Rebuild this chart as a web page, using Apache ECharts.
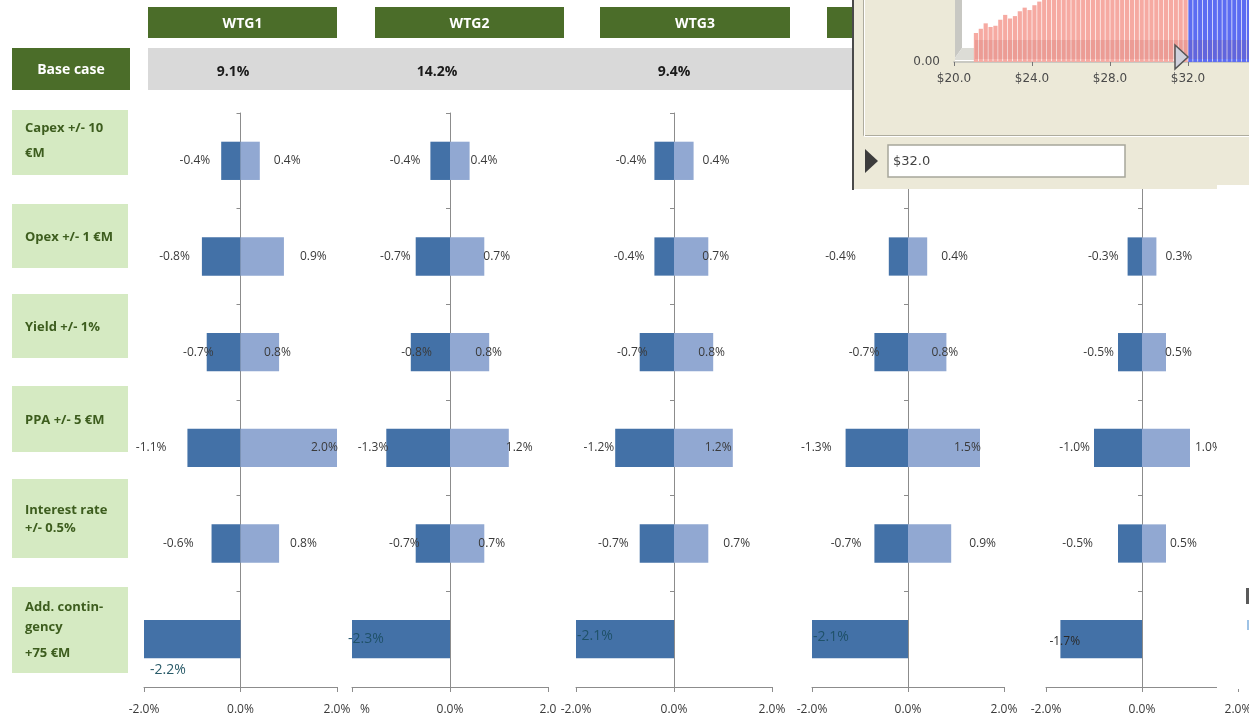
<!DOCTYPE html>
<html>
<head>
<meta charset="utf-8">
<script src="https://cdn.jsdelivr.net/npm/echarts@6/dist/echarts.min.js"></script>
<style>
  html, body { margin: 0; padding: 0; background: #ffffff; }
  #chart { width: 1249px; height: 720px; }
</style>
</head>
<body>
<div id="chart"></div>
<script>
// ---- data -------------------------------------------------------------
const turbines = ['WTG1', 'WTG2', 'WTG3'];
const baseCase = ['9.1%', '14.2%', '9.4%'];
const driverKeys = ['Capex', 'Opex', 'Yield', 'PPA', 'Interest', 'Contingency'];
const driverLines = [
  ['Capex +/- 10', '€M'],
  ['Opex +/- 1 €M'],
  ['Yield +/- 1%'],
  ['PPA +/- 5 €M'],
  ['Interest rate', '+/- 0.5%'],
  ['Add. contin-', 'gency', '+75 €M']
];

// IRR change (percentage points) per driver, downside / upside
const wtg1Low  = [-0.4, -0.8, -0.7, -1.1, -0.6, -2.2];
const wtg1High = [ 0.4,  0.9,  0.8,  2.0,  0.8, null];
const wtg2Low  = [-0.4, -0.7, -0.8, -1.3, -0.7, -2.3];
const wtg2High = [ 0.4,  0.7,  0.8,  1.2,  0.7, null];
const wtg3Low  = [-0.4, -0.4, -0.7, -1.2, -0.7, -2.1];
const wtg3High = [ 0.4,  0.7,  0.8,  1.2,  0.7, null];
const wtg4Low  = [null, -0.4, -0.7, -1.3, -0.7, -2.1];
const wtg4High = [null,  0.4,  0.8,  1.5,  0.9, null];
const wtg5Low  = [null, -0.3, -0.5, -1.0, -0.5, -1.7];
const wtg5High = [null,  0.3,  0.5,  1.0,  0.5, null];

// price distribution (bin centre in $, probability)
const priceBins = [21.125, 21.375, 21.625, 21.875, 22.125, 22.375, 22.625, 22.875,
  23.125, 23.375, 23.625, 23.875, 24.125, 24.375, 24.625, 24.875, 25.125, 25.375,
  25.625, 25.875, 26.125, 26.375, 26.625, 26.875, 27.125, 27.375, 27.625, 27.875,
  28.125, 28.375, 28.625, 28.875, 29.125, 29.375, 29.625, 29.875, 30.125, 30.375,
  30.625, 30.875, 31.125, 31.375, 31.625, 31.875, 32.125, 32.375, 32.625, 32.875,
  33.125, 33.375, 33.625, 33.875, 34.125, 34.375, 34.625, 34.875, 35.125];
const priceProb = [0.0048, 0.0055, 0.0064, 0.0058, 0.0060, 0.0070, 0.0078, 0.0072,
  0.0076, 0.0084, 0.0090, 0.0086, 0.0094, 0.0100, 0.0112, 0.0128, 0.0205, 0.0222,
  0.0240, 0.0256, 0.0270, 0.0284, 0.0296, 0.0305, 0.0312, 0.0318, 0.0322, 0.0324,
  0.0323, 0.0320, 0.0314, 0.0306, 0.0297, 0.0286, 0.0274, 0.0262, 0.0249, 0.0236,
  0.0222, 0.0209, 0.0196, 0.0184, 0.0172, 0.0160, 0.0150, 0.0140, 0.0131, 0.0123,
  0.0118, 0.0114, 0.0111, 0.0109, 0.0108, 0.0107, 0.0106, 0.0106, 0.0105];
const priceThreshold = 32.0;
const priceInput = '$32.0';

// ---- layout & style ---------------------------------------------------
const FONT = '"Open Sans", "Liberation Sans", sans-serif';
const darkGreen = '#4b6d29';
const lightGreen = '#d5eac2';
const labelGreen = '#3d5d1e';
const lowColor = '#4371a7';
const highColor = '#91a8d2';
const axisGrey = '#8c8c8c';
const textGrey = '#3a3a3a';

const panelBox = [
  { left: 144, width: 193 },
  { left: 352, width: 196 },
  { left: 576, width: 196 },
  { left: 812, width: 192 },
  { left: 1046, width: 192 }
];
const headerBox = [[148, 337], [375, 564], [600, 790], [827, 1016]];
const baseValueX = [233, 437, 674];
const driverBoxY = [[110, 175], [204, 268], [294, 358], [386, 452], [479, 558], [587, 673]];
const driverTextY = [[128, 153], [237], [327], [420], [510, 528], [607, 627, 653]];

// how far each data label sits from its bar end (px, negative = over the bar)
const lowGap = [
  [11, 12, -7, 21, 18, 0],
  [10, 5, -21, -2, -4, 0],
  [8, 10, -8, 1, 11, 0],
  [0, 33, -5, 14, 13, 0],
  [0, 9, 4, 4, 25, 0]
];
const highGap = [
  [14, 16, -15, -26, 11, 0],
  [1, -1, -14, -3, -6, 0],
  [9, -6, -15, -28, 15, 0],
  [0, 14, -15, -26, 18, 0],
  [0, 9, -1, 5, 4, 0]
];
// labels of the long contingency bars
const contingencyLabel = [
  { offset: [1, 31], color: '#2a5b69', fontSize: 14 },
  { offset: [-9, 0], color: '#1f5169', fontSize: 14 },
  { offset: [-4, -3], color: '#1f5169', fontSize: 14 },
  { offset: [-4, -2], color: '#1f5169', fontSize: 14 },
  { offset: [-16, 2], color: '#2a2a2a', fontSize: 12 }
];

const lows = [wtg1Low, wtg2Low, wtg3Low, wtg4Low, wtg5Low];
const highs = [wtg1High, wtg2High, wtg3High, wtg4High, wtg5High];

const pct = v => v.toFixed(1) + '%';

const grid = [], xAxis = [], yAxis = [], series = [];

panelBox.forEach((box, i) => {
  grid.push({ left: box.left, width: box.width, top: 113, height: 574, outerBoundsMode: 'none', containLabel: false });

  let fmt = v => pct(v);
  const rich = {};
  if (i === 1) {
    // second panel is cut on both sides
    fmt = v => (v === -2 ? '{cut|%}' : v === 2 ? '2.0' : pct(v));
    rich.cut = { padding: [0, 0, 0, 8], fontSize: 12, fontFamily: FONT, color: textGrey };
  }
  xAxis.push({
    gridIndex: i, type: 'value', min: -2, max: 2, interval: 2,
    axisLine: { show: true, onZero: false, lineStyle: { color: axisGrey, width: 1 } },
    axisTick: { show: true, length: 5, lineStyle: { color: axisGrey } },
    splitLine: { show: false },
    axisLabel: {
      formatter: fmt, rich: rich, margin: 17, fontSize: 12, fontFamily: FONT, color: textGrey,
      alignMinLabel: i === 1 ? 'left' : 'center'
    }
  });
  yAxis.push({
    gridIndex: i, type: 'category', data: driverKeys, inverse: true,
    axisLine: { show: true, onZero: true, lineStyle: { color: axisGrey, width: 1 } },
    axisTick: { show: true, length: 4, lineStyle: { color: axisGrey } },
    axisLabel: { show: false },
    splitLine: { show: false }
  });

  const baseLabel = { show: true, fontSize: 12, fontFamily: FONT, color: textGrey, formatter: p => pct(p.value) };

  const lowData = lows[i].map((v, k) => {
    if (v == null) return null;
    if (k === 5) {
      const c = contingencyLabel[i];
      return { value: v, label: { position: 'insideLeft', distance: 5, offset: c.offset, color: c.color, fontSize: c.fontSize } };
    }
    return { value: v, label: { position: 'left', distance: 0, offset: [-lowGap[i][k], 0] } };
  });
  const highData = highs[i].map((v, k) => {
    if (v == null) return null;
    return { value: v, label: { position: 'right', distance: 0, offset: [highGap[i][k], 0] } };
  });

  series.push({
    type: 'bar', name: 'low', xAxisIndex: i, yAxisIndex: i, data: lowData,
    barCategoryGap: '60%', barGap: '-100%', itemStyle: { color: lowColor },
    label: baseLabel, silent: true, animation: false
  });
  series.push({
    type: 'bar', name: 'high', xAxisIndex: i, yAxisIndex: i, data: highData,
    barCategoryGap: '60%', barGap: '-100%', itemStyle: { color: highColor },
    label: baseLabel, silent: true, animation: false
  });
});

// price distribution window laid over the top right corner
grid.push({ left: 954, width: 312, top: -240, height: 302, outerBoundsMode: 'none', containLabel: false });
xAxis.push({
  gridIndex: 5, type: 'value', min: 20, max: 36, interval: 4, z: 60,
  axisLine: { show: true, onZero: false, lineStyle: { color: '#c9c9c2', width: 2 } },
  axisTick: { show: true, length: 4, lineStyle: { color: '#777' } },
  splitLine: { show: false },
  axisLabel: { formatter: v => '$' + v.toFixed(1), margin: 11, fontSize: 12,
    fontFamily: '"DejaVu Sans", sans-serif', color: '#4a4a4a' }
});
yAxis.push({
  gridIndex: 5, type: 'value', min: 0, max: 0.05, interval: 0.025, z: 60,
  axisLine: { show: false }, axisTick: { show: false }, splitLine: { show: false },
  axisLabel: { formatter: v => (v === 0 ? v.toFixed(2) : ''), margin: 14, fontSize: 12,
    fontFamily: '"DejaVu Sans", sans-serif', color: '#4a4a4a', padding: [0, 0, 8, 0] }
});
series.push({
  type: 'bar', name: 'price', xAxisIndex: 5, yAxisIndex: 5, z: 60,
  data: priceBins.map((b, k) => [b, priceProb[k]]),
  barCategoryGap: '14%',
  itemStyle: { color: p => (p.value[0] < priceThreshold ? '#f6aaa2' : '#5c6cf2') },
  silent: true, animation: false
});

// ---- table decoration --------------------------------------------------
const elements = [];

headerBox.forEach(([x0, x1], i) => {
  elements.push({ type: 'rect', z: 1, shape: { x: x0, y: 7, width: x1 - x0, height: 31 }, style: { fill: darkGreen } });
  if (i < turbines.length) {
    elements.push({ type: 'text', z: 2, x: (x0 + x1) / 2, y: 24,
      style: { text: turbines[i], fill: '#ffffff', font: 'bold 14px ' + FONT, textAlign: 'center', textVerticalAlign: 'middle' } });
  }
});

elements.push({ type: 'rect', z: 1, shape: { x: 12, y: 48, width: 118, height: 42 }, style: { fill: darkGreen } });
elements.push({ type: 'text', z: 2, x: 71, y: 70,
  style: { text: 'Base case', fill: '#ffffff', font: 'bold 14px ' + FONT, textAlign: 'center', textVerticalAlign: 'middle' } });
elements.push({ type: 'rect', z: 1, shape: { x: 148, y: 48, width: 710, height: 42 }, style: { fill: '#d9d9d9' } });
baseCase.forEach((t, i) => {
  elements.push({ type: 'text', z: 2, x: baseValueX[i], y: 72,
    style: { text: t, fill: '#1a1a1a', font: 'bold 14px ' + FONT, textAlign: 'center', textVerticalAlign: 'middle' } });
});

driverLines.forEach((lines, i) => {
  const [y0, y1] = driverBoxY[i];
  elements.push({ type: 'rect', z: 1, shape: { x: 12, y: y0, width: 116, height: y1 - y0 }, style: { fill: lightGreen } });
  lines.forEach((ln, j) => {
    elements.push({ type: 'text', z: 2, x: 25, y: driverTextY[i][j],
      style: { text: ln, fill: labelGreen, font: 'bold 13px ' + FONT, textAlign: 'left', textVerticalAlign: 'middle' } });
  });
});

// price window frame
elements.push({ type: 'rect', z: 50, shape: { x: 852, y: 0, width: 397, height: 189 }, style: { fill: '#ece9d8' } });
elements.push({ type: 'rect', z: 51, shape: { x: 852, y: 0, width: 2, height: 190 }, style: { fill: '#4a4a4a' } });
elements.push({ type: 'polyline', z: 51, shape: { points: [[863.5, 0], [863.5, 135.5], [1249, 135.5]] }, style: { stroke: '#aeac9e', lineWidth: 1, fill: null } });
elements.push({ type: 'polyline', z: 51, shape: { points: [[864.5, 0], [864.5, 136.5], [1249, 136.5]] }, style: { stroke: '#ffffff', lineWidth: 1, fill: null } });
elements.push({ type: 'rect', z: 55, shape: { x: 955, y: 0, width: 294, height: 61 }, style: { fill: '#ffffff' } });
elements.push({ type: 'polygon', z: 56, shape: { points: [[955, 0], [962, 0], [962, 48], [955, 58]] }, style: { fill: '#c8c8c3' } });
elements.push({ type: 'polygon', z: 56, shape: { points: [[955, 58], [962, 48], [975, 48], [975, 60], [955, 60]] }, style: { fill: '#dcdcd6' } });
elements.push({ type: 'rect', z: 65, shape: { x: 975, y: 40, width: 274, height: 19 }, style: { fill: 'rgba(150, 40, 40, 0.10)' } });
elements.push({ type: 'polygon', z: 66, shape: { points: [[1175, 45], [1188, 57], [1175, 69]] }, style: { fill: '#cfd0dc', stroke: '#555555', lineWidth: 1.5 } });
elements.push({ type: 'rect', z: 52, shape: { x: 888, y: 145, width: 237, height: 32 }, style: { fill: '#ffffff', stroke: '#a7a69b', lineWidth: 1.5 } });
elements.push({ type: 'text', z: 53, x: 893, y: 162,
  style: { text: priceInput, fill: '#444444', font: '13px "DejaVu Sans", sans-serif', textAlign: 'left', textVerticalAlign: 'middle' } });
elements.push({ type: 'polygon', z: 52, shape: { points: [[865, 149], [878, 161], [865, 173]] }, style: { fill: '#3c3c3c' } });

// strip along the right edge
elements.push({ type: 'rect', z: 80, shape: { x: 1217, y: 185, width: 32, height: 504 }, style: { fill: '#ffffff' } });
elements.push({ type: 'rect', z: 81, shape: { x: 1246, y: 588, width: 3, height: 16 }, style: { fill: '#5a5a5a' } });
elements.push({ type: 'rect', z: 81, shape: { x: 1247, y: 620, width: 2, height: 10 }, style: { fill: '#9ec3e6' } });

const chart = echarts.init(document.getElementById('chart'), null, { renderer: 'canvas' });
chart.setOption({
  animation: false,
  backgroundColor: '#ffffff',
  grid: grid,
  xAxis: xAxis,
  yAxis: yAxis,
  series: series,
  graphic: { elements: elements }
});
</script>
</body>
</html>
